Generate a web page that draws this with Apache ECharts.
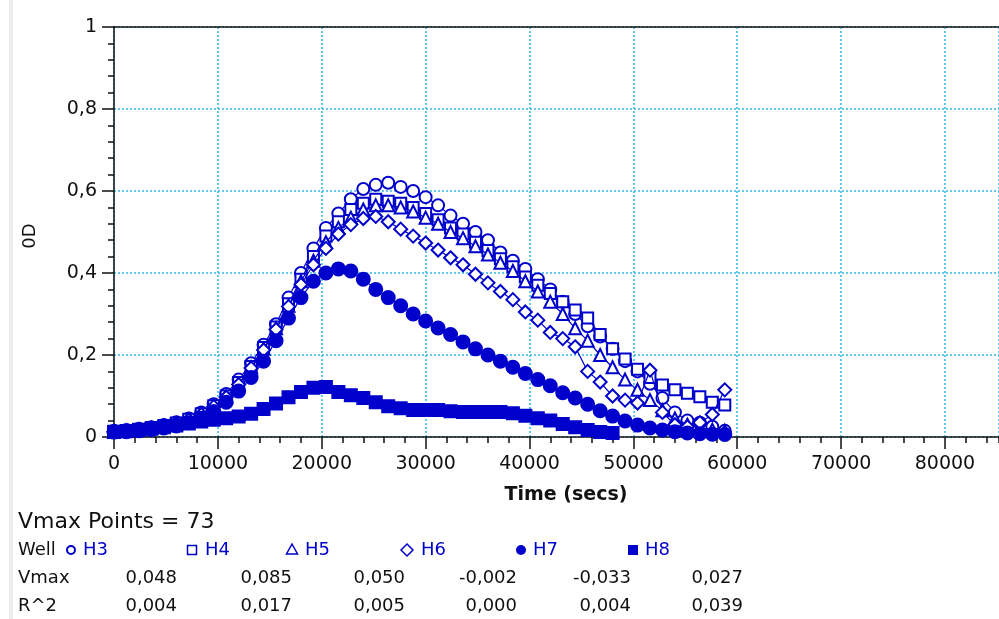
<!DOCTYPE html>
<html>
<head>
<meta charset="utf-8">
<script src="https://cdn.jsdelivr.net/npm/echarts@6/dist/echarts.min.js"></script>
<style>
html,body{margin:0;padding:0;background:#fff;}
#chart{width:999px;height:619px;}
</style>
</head>
<body>
<div id="chart"></div>
<script>
// ---- data ----
var times = [0,1200,2400,3600,4800,6000,7200,8400,9600,10800,12000,13200,14400,15600,16800,18000,19200,20400,21600,22800,24000,25200,26400,27600,28800,30000,31200,32400,33600,34800,36000,37200,38400,39600,40800,42000,43200,44400,45600,46800,48000,49200,50400,51600,52800,54000,55200,56400,57600,58800];
var H3 = [0.015,0.017,0.020,0.024,0.029,0.036,0.045,0.060,0.080,0.105,0.140,0.180,0.225,0.275,0.340,0.400,0.460,0.510,0.545,0.580,0.605,0.615,0.620,0.610,0.600,0.585,0.565,0.540,0.520,0.500,0.480,0.450,0.430,0.410,0.385,0.360,0.330,0.300,0.270,0.245,0.215,0.185,0.160,0.130,0.095,0.060,0.040,0.035,0.025,0.015];
var H4 = [0.014,0.016,0.019,0.023,0.028,0.034,0.043,0.057,0.076,0.100,0.133,0.172,0.218,0.268,0.325,0.385,0.440,0.490,0.525,0.555,0.570,0.580,0.575,0.570,0.560,0.545,0.530,0.510,0.495,0.475,0.455,0.435,0.415,0.390,0.370,0.350,0.330,0.310,0.290,0.250,0.215,0.190,0.165,0.145,0.127,0.115,0.107,0.098,0.085,0.078];
var H5 = [0.013,0.015,0.018,0.022,0.027,0.033,0.042,0.056,0.075,0.098,0.130,0.170,0.215,0.265,0.320,0.380,0.430,0.475,0.510,0.535,0.555,0.565,0.565,0.560,0.550,0.535,0.520,0.500,0.485,0.465,0.445,0.425,0.405,0.380,0.355,0.330,0.300,0.265,0.235,0.200,0.170,0.140,0.115,0.090,0.065,0.045,0.030,0.022,0.018,0.015];
var H6 = [0.013,0.015,0.018,0.022,0.027,0.033,0.042,0.055,0.074,0.097,0.128,0.168,0.212,0.262,0.318,0.372,0.420,0.460,0.495,0.518,0.533,0.538,0.525,0.507,0.490,0.473,0.456,0.437,0.420,0.397,0.376,0.355,0.335,0.305,0.285,0.255,0.240,0.220,0.160,0.134,0.100,0.090,0.083,0.163,0.060,0.030,0.025,0.035,0.055,0.115];
var H7 = [0.012,0.013,0.015,0.018,0.022,0.027,0.035,0.046,0.062,0.085,0.112,0.145,0.185,0.235,0.290,0.340,0.380,0.400,0.410,0.405,0.385,0.360,0.340,0.320,0.300,0.283,0.266,0.250,0.232,0.215,0.200,0.185,0.170,0.155,0.140,0.125,0.108,0.095,0.080,0.064,0.051,0.039,0.029,0.022,0.017,0.013,0.010,0.008,0.007,0.006];
var H8 = [0.012,0.014,0.017,0.020,0.024,0.028,0.033,0.038,0.042,0.046,0.050,0.057,0.068,0.082,0.097,0.110,0.120,0.122,0.110,0.102,0.095,0.085,0.075,0.070,0.066,0.066,0.066,0.063,0.061,0.061,0.061,0.061,0.058,0.052,0.046,0.040,0.032,0.024,0.017,0.012,0.010];
var wells = ['H3','H4','H5','H6','H7','H8'];
var vmaxVals = ['0,048','0,085','0,050','-0,002','-0,033','0,027'];
var r2Vals = ['0,004','0,017','0,005','0,000','0,004','0,039'];
var vmaxPoints = 73;
var xTickStep = 10000, xMinorStep = 2000, xMax = 85200;
var yTickStep = 0.2;

// ---- styling ----
var BLUE = '#0000cc';
var FONT = 'DejaVu Sans';
function pairs(arr){ return arr.map(function(v,i){ return [times[i], v]; }); }

var markerDefs = [
  {symbol:'circle', size:12, fill:'#fff'},
  {symbol:'rect', size:11, fill:'#fff'},
  {symbol:'triangle', size:12, fill:'#fff'},
  {symbol:'diamond', size:13, fill:'#fff'},
  {symbol:'circle', size:13, fill:BLUE},
  {symbol:'rect', size:12, fill:BLUE}
];
var seriesData = [H3,H4,H5,H6,H7,H8];

var series = seriesData.map(function(d, k){
  var m = markerDefs[k];
  return {
    name: wells[k], type:'line', xAxisIndex:0, yAxisIndex:0,
    data: pairs(d), symbol: m.symbol, symbolSize: m.size, showSymbol:true,
    lineStyle:{color:BLUE, width:1.2},
    itemStyle:{color:m.fill, borderColor:BLUE, borderWidth:2},
    emphasis:{disabled:true}, z: 2 + k
  };
});

// ---- bottom text block ----
var valRight = [177,292,405,517,631,743];
var symX = [71,192,292,407,521,633];
var labX = [83,205,305,421,533,645];
var TXT = '18px "DejaVu Sans"';
var graphics = [
  {type:'rect', shape:{x:9,y:0,width:4,height:619}, style:{fill:'#ededed'}, silent:true},
  {type:'text', x:30, y:236, rotation:Math.PI/2, style:{text:'0D', font:'18px "DejaVu Sans"', fill:'#111', align:'center', verticalAlign:'middle'}},
  {type:'text', x:566, y:495, style:{text:'Time (secs)', font:'bold 19px "DejaVu Sans"', fill:'#111', align:'center', verticalAlign:'middle'}},
  {type:'text', x:18, y:522, style:{text:'Vmax Points = ' + vmaxPoints, font:'22px "DejaVu Sans"', fill:'#111', align:'left', verticalAlign:'middle'}},
  {type:'text', x:18, y:550, style:{text:'Well', font:TXT, fill:'#111', align:'left', verticalAlign:'middle'}},
  {type:'text', x:18, y:578, style:{text:'Vmax', font:TXT, fill:'#111', align:'left', verticalAlign:'middle'}},
  {type:'text', x:18, y:606, style:{text:'R^2', font:TXT, fill:'#111', align:'left', verticalAlign:'middle'}}
];
var cy = 550;
wells.forEach(function(w,k){
  var x = symX[k];
  var s;
  if (k===0) s = {type:'circle', shape:{cx:x, cy:cy, r:4}, style:{fill:'#fff', stroke:BLUE, lineWidth:2}};
  else if (k===1) s = {type:'rect', shape:{x:x-4.5, y:cy-4.5, width:9, height:9}, style:{fill:'#fff', stroke:BLUE, lineWidth:1.5}};
  else if (k===2) s = {type:'polygon', shape:{points:[[x,cy-6],[x+5.5,cy+4],[x-5.5,cy+4]]}, style:{fill:'#fff', stroke:BLUE, lineWidth:1.5}};
  else if (k===3) s = {type:'polygon', shape:{points:[[x,cy-6],[x+6,cy],[x,cy+6],[x-6,cy]]}, style:{fill:'#fff', stroke:BLUE, lineWidth:1.5}};
  else if (k===4) s = {type:'circle', shape:{cx:x, cy:cy, r:5}, style:{fill:BLUE}};
  else s = {type:'rect', shape:{x:x-5, y:cy-5, width:10, height:10}, style:{fill:BLUE}};
  graphics.push(s);
  graphics.push({type:'text', x:labX[k], y:cy, style:{text:w, font:TXT, fill:BLUE, align:'left', verticalAlign:'middle'}});
  graphics.push({type:'text', x:valRight[k], y:578, style:{text:vmaxVals[k], font:TXT, fill:'#111', align:'right', verticalAlign:'middle'}});
  graphics.push({type:'text', x:valRight[k], y:606, style:{text:r2Vals[k], font:TXT, fill:'#111', align:'right', verticalAlign:'middle'}});
});

var gridLine = {show:true, lineStyle:{color:'#33b8e8', width:1.5, type:[2,2]}};
var blackLine = {color:'#111', width:1.5};

var option = {
  animation:false,
  backgroundColor:'#fff',
  grid:{left:114, top:27, right:0, bottom:182, containLabel:false},
  xAxis:[
    {type:'value', min:0, max:xMax, interval:xTickStep, position:'bottom',
     axisLine:{show:true, onZero:false, lineStyle:blackLine},
     axisTick:{show:true, length:12, lineStyle:blackLine},
     axisLabel:{show:true, fontFamily:FONT, fontSize:19, color:'#111', margin:18, showMaxLabel:false,
       formatter:function(v){ return String(Math.round(v)); }},
     splitLine:gridLine},
    {type:'value', min:0, max:xMax, interval:xMinorStep, position:'bottom',
     axisLine:{show:false}, axisTick:{show:true, length:6, lineStyle:blackLine},
     axisLabel:{show:false}, splitLine:{show:false}},
    {type:'value', min:0, max:xMax, position:'top',
     axisLine:{show:true, lineStyle:blackLine}, axisTick:{show:false},
     axisLabel:{show:false}, splitLine:{show:false}}
  ],
  yAxis:[
    {type:'value', min:0, max:1, interval:yTickStep,
     axisLine:{show:true, lineStyle:blackLine},
     axisTick:{show:true, length:12, lineStyle:blackLine},
     minorTick:{show:true, splitNumber:5, length:6, lineStyle:blackLine},
     axisLabel:{fontFamily:FONT, fontSize:19, color:'#111', margin:17,
       formatter:function(v){ if (Math.abs(v)<1e-9) return '0'; if (Math.abs(v-1)<1e-9) return '1'; return v.toFixed(1).replace('.', ','); }},
     splitLine:gridLine}
  ],
  series: series,
  graphic: graphics
};
var chart = echarts.init(document.getElementById('chart'), null, {renderer:'canvas'});
chart.setOption(option);
</script>
</body>
</html>
